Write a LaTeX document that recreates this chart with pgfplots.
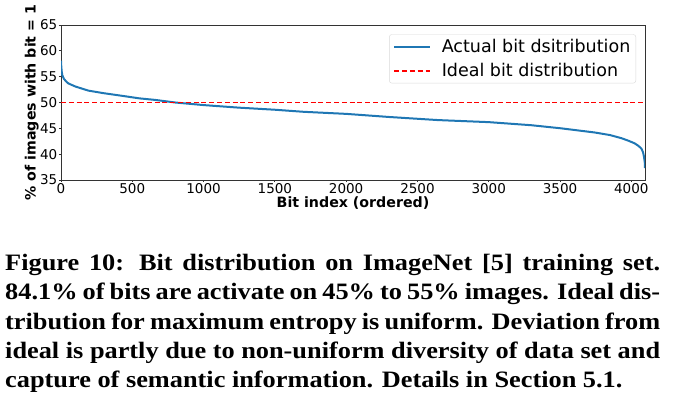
\documentclass[border=0pt]{standalone}
\usepackage{pgfplots}
\pgfplotsset{compat=1.18}
\usepackage{fontspec}
\setmainfont{DejaVu Sans}
\newfontfamily\capfont[FakeStretch=1.12]{Liberation Serif}
\definecolor{mplblue}{HTML}{1F77B4}
\newcommand{\capline}[1]{\makebox[655pt][s]{#1}}
\begin{document}
\begin{tikzpicture}
\path[use as bounding box] (-61pt,-219pt) rectangle (618pt,180pt);
\begin{axis}[
  at={(0,0)}, anchor=south west,
  scale only axis, width=584pt, height=155pt,
  xmin=0, xmax=4096, ymin=35, ymax=65,
  xtick={0,500,...,4000}, ytick={35,40,...,65},
  tick align=outside, tick pos=left, major tick length=2pt,
  tick style={black!80, line width=0.8pt},
  ticklabel style={font=\fontsize{13.5}{14}\selectfont},
  xticklabel style={inner sep=1pt},
  yticklabel style={inner sep=1.5pt},
  /pgf/number format/assume math mode=true,
  /pgf/number format/1000 sep={},
  axis line style={black!80, line width=0.8pt},
  xlabel={Bit index (ordered)},
  ylabel={\% of images with bit = 1},
  label style={font=\bfseries\fontsize{14.2}{15}\selectfont},
  xlabel style={at={(axis description cs:0.5,-0.176)}, anchor=base},
  ylabel style={at={(axis description cs:-0.05,0.5)}, anchor=center},
  legend cell align=left,
  legend style={at={(rel axis cs:0.9846,0.94)}, anchor=north east,
    draw=black!15, rounded corners=2.5pt, fill=white,
    font=\fontsize{17.5}{20}\selectfont, inner xsep=4pt, inner ysep=3.5pt, row sep=6pt,
    nodes={inner sep=1.5pt},
    /tikz/every odd column/.append style={column sep=9pt}},
  legend image code/.code={\draw[#1] (0pt,0pt) -- (36pt,0pt);},
]
\addplot[mplblue, line width=2pt] coordinates {
(0,58.1) (2,57.0) (5,56.0) (9,55.3) (20,54.6) (35,54.1) (51,53.7)
(100,53.1) (192,52.3) (300,51.8) (427,51.3) (550,50.8) (661,50.5)
(801,50.0) (1000,49.5) (1250,49.0) (1500,48.6) (1701,48.2) (2000,47.8)
(2300,47.2) (2643,46.6) (3000,46.2) (3300,45.6) (3508,45.0) (3742,44.2)
(3850,43.7) (3930,43.1) (3980,42.6) (4023,42.1) (4050,41.6) (4070,41.1)
(4082,40.4) (4089,39.5) (4094,38.5) (4096,37.3)
};
\addlegendentry{Actual bit dsitribution}
\addplot[red, line width=1.7pt, dash pattern=on 5pt off 2.8pt] coordinates {(0,50) (4096,50)};
\addlegendentry{Ideal bit distribution}
\end{axis}
\node[anchor=north west, inner sep=0pt, align=left,
  font=\capfont\bfseries\fontsize{23.5}{29.3}\selectfont] at (-56pt,-74pt)
{\capline{Figure 10: Bit distribution on ImageNet [5] training set.}\\
\capline{84.1\% of bits are activate on 45\% to 55\% images. Ideal dis-}\\
\capline{tribution for maximum entropy is uniform. Deviation from}\\
\capline{ideal is partly due to non-uniform diversity of data set and}\\
capture of semantic information. Details in Section 5.1.};
\end{tikzpicture}
\end{document}
